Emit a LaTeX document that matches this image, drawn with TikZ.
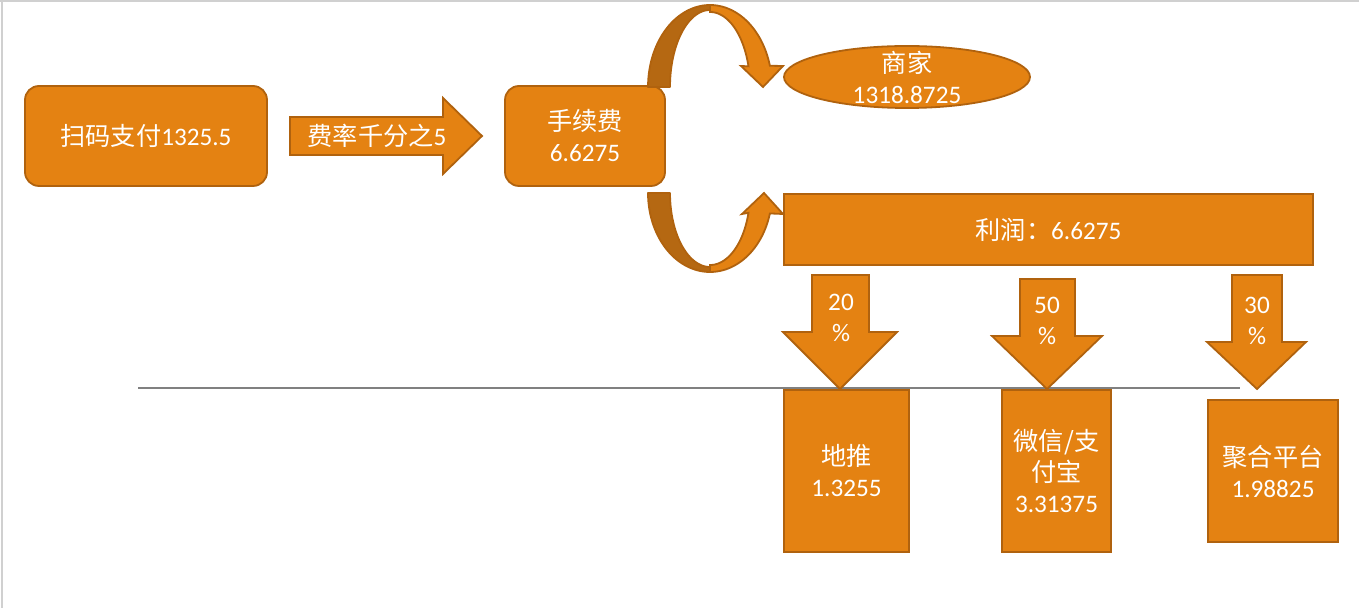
\documentclass[tikz,border=0pt]{standalone}
\usepackage{fontspec}
\setmainfont{Carlito}
\newfontfamily\cjk{Noto Sans CJK SC}
\usetikzlibrary{shapes.geometric}
\definecolor{fillor}{RGB}{228,130,18}
\definecolor{edgeor}{RGB}{176,98,14}
\definecolor{darkor}{RGB}{181,104,18}
\definecolor{frame}{RGB}{208,208,208}
\begin{document}
\begin{tikzpicture}[x=0.5pt,y=-0.5pt,
  txt/.style={text=white, align=center, inner sep=0pt, font=\fontsize{12.6}{15.5}\selectfont},
  shapebox/.style={txt, draw=edgeor, fill=fillor, line width=0.9pt},
  blockarrow/.style={draw=edgeor, fill=fillor, line width=0.9pt, line join=miter},
  backband/.style={draw=edgeor, fill=darkor, line width=0.9pt, line join=round}]
\useasboundingbox (0,0) rectangle (1359,608);
\draw[frame, line width=0.8pt] (0,1) -- (1359,1);
\draw[frame, line width=0.8pt] (2,0) -- (2,608);

% boxes
\node[shapebox, rounded corners=7pt, minimum width=121pt, minimum height=50pt] (scan) at (146,136) {{\cjk 扫码支付}1325.5};
\node[shapebox, rounded corners=7pt, minimum width=80pt, minimum height=50pt] (fee) at (585,136) {{\cjk 手续费}\\6.6275};
\node[shapebox, ellipse, minimum width=123pt, minimum height=31pt] (merchant) at (907,77) {};
\node[txt] (merchanttext) at (merchant.center) {{\cjk 商家}\\1318.8725};
\node[shapebox, minimum width=264.5pt, minimum height=35.5pt] (profit) at (1048.5,229.5) {{\cjk 利润：}6.6275};

% right block arrow
\draw[blockarrow] (290,117) -- (443,117) -- (443,98) -- (482,136) -- (443,174) -- (443,155) -- (290,155) -- cycle;
\node[txt] (rate) at (377,136) {{\cjk 费率千分之}5};

% upper curved arrow
\draw[backband] plot[domain=180:90, samples=40, variable=\t] ({710+62*cos(\t)}, {87-82*sin(\t)})
  -- plot[domain=90:180, samples=40, variable=\t] ({710+40*cos(\t)}, {87-77*sin(\t)}) -- cycle;
\draw[blockarrow] plot[domain=90:15, samples=40, variable=\t] ({710+62*cos(\t)}, {87-82*sin(\t)})
  -- (783,66) -- (763,87) -- (741,66)
  -- plot[domain=16:90, samples=40, variable=\t] ({710+40*cos(\t)}, {87-75*sin(\t)}) -- cycle;

% lower curved arrow
\draw[backband] plot[domain=180:90, samples=40, variable=\t] ({710+62*cos(\t)}, {193+79*sin(\t)})
  -- plot[domain=90:180, samples=40, variable=\t] ({710+40*cos(\t)}, {193+74*sin(\t)}) -- cycle;
\draw[blockarrow] plot[domain=90:15, samples=40, variable=\t] ({710+62*cos(\t)}, {193+79*sin(\t)})
  -- (783,214) -- (764,193) -- (742,214)
  -- plot[domain=16:90, samples=40, variable=\t] ({710+40*cos(\t)}, {193+72*sin(\t)}) -- cycle;

% horizontal line
\coordinate (lineL) at (138,388);
\coordinate (lineR) at (1240,388);
\draw[gray, line width=0.6pt] (lineL) -- (lineR);

% down arrows
\draw[blockarrow] (812,275) -- (869,275) -- (869,332) -- (897,332) -- (840,389) -- (783,332) -- (812,332) -- cycle;
\node[txt] (p20) at (841,318) {20\\\%};
\draw[blockarrow] (1020,279) -- (1075,279) -- (1075,336) -- (1102,336) -- (1047,389) -- (992,336) -- (1020,336) -- cycle;
\node[txt] (p50) at (1047,321) {50\\\%};
\draw[blockarrow] (1232,275) -- (1282,275) -- (1282,342) -- (1306,342) -- (1257,389) -- (1207,342) -- (1232,342) -- cycle;
\node[txt] (p30) at (1257,321) {30\\\%};

% bottom boxes
\node[shapebox, minimum width=62.5pt, minimum height=81pt] (ground) at (846.5,471) {{\cjk 地推}\\1.3255};
\node[shapebox, minimum width=54.5pt, minimum height=81pt] (wechat) at (1056.5,471) {{\cjk 微信/支}\\{\cjk 付宝}\\3.31375};
\node[shapebox, minimum width=65pt, minimum height=71pt] (agg) at (1273,471) {{\cjk 聚合平台}\\1.98825};
\end{tikzpicture}
\end{document}
